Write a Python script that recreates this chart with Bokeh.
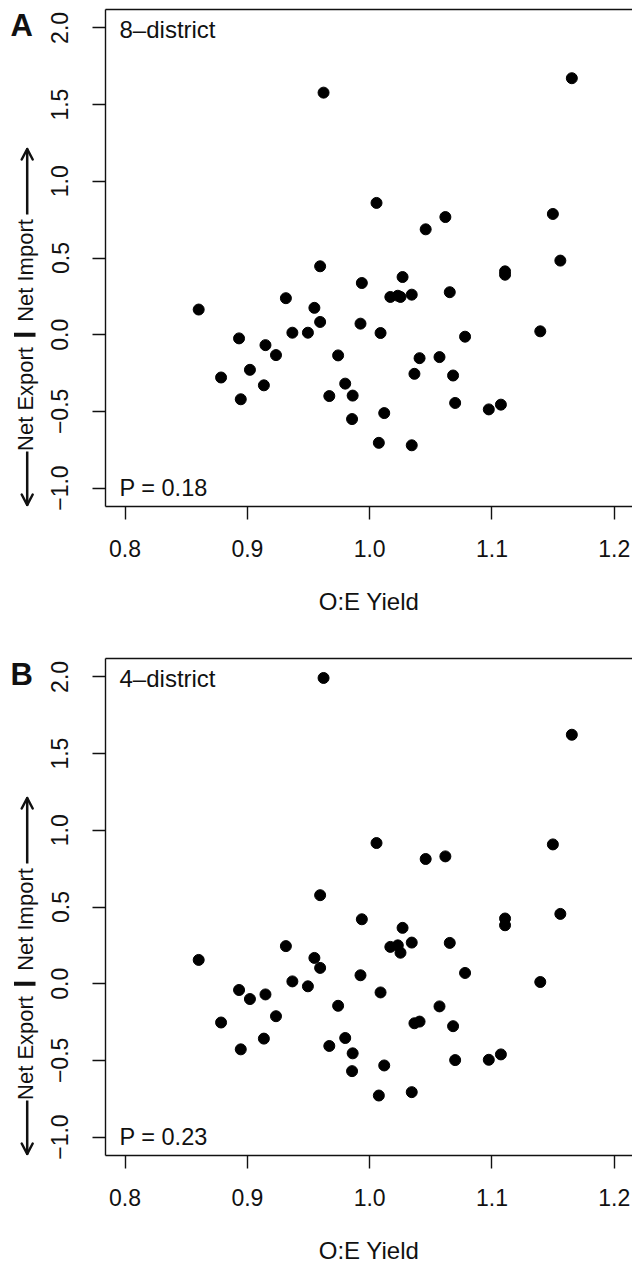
from math import pi
from bokeh.plotting import figure
from bokeh.models import Range1d, FixedTicker, LinearAxis, Label
from bokeh.core.properties import value
from bokeh.layouts import column, row
from bokeh.embed import file_html
from bokeh.resources import INLINE

# ---------------- data ----------------
oe_yield = [0.8602, 0.8785, 0.8932, 0.8946, 0.9021, 0.9135, 0.9148, 0.9234, 0.9315, 0.9368,
            0.9495, 0.9548, 0.9595, 0.9595, 0.9623, 0.9670, 0.9742, 0.9800, 0.9856, 0.9861,
            0.9925, 0.9936, 1.0056, 1.0075, 1.0089, 1.0119, 1.0169, 1.0230, 1.0252, 1.0269,
            1.0344, 1.0344, 1.0366, 1.0408, 1.0458, 1.0571, 1.0619, 1.0655, 1.0682, 1.0699,
            1.0780, 1.0974, 1.1073, 1.1107, 1.1107, 1.1395, 1.1498, 1.1559, 1.1653]

net_8district = [0.164, -0.279, -0.024, -0.421, -0.229, -0.330, -0.068, -0.133, 0.238, 0.013,
                 0.013, 0.175, 0.083, 0.446, 1.578, -0.400, -0.135, -0.319, -0.550, -0.397,
                 0.072, 0.337, 0.859, -0.705, 0.011, -0.511, 0.246, 0.254, 0.246, 0.376,
                 0.261, -0.721, -0.255, -0.153, 0.687, -0.146, 0.767, 0.277, -0.266, -0.445,
                 -0.013, -0.487, -0.456, 0.413, 0.391, 0.022, 0.787, 0.483, 1.672]

net_4district = [0.155, -0.253, -0.041, -0.428, -0.100, -0.358, -0.070, -0.212, 0.245, 0.015,
                 -0.017, 0.168, 0.103, 0.577, 1.993, -0.406, -0.144, -0.354, -0.570, -0.454,
                 0.055, 0.420, 0.917, -0.729, -0.057, -0.533, 0.240, 0.250, 0.202, 0.364,
                 0.268, -0.707, -0.258, -0.247, 0.813, -0.148, 0.830, 0.266, -0.277, -0.498,
                 0.070, -0.496, -0.461, 0.425, 0.381, 0.011, 0.908, 0.455, 1.623]

x_ticks = [0.8, 0.9, 1.0, 1.1, 1.2]
x_tick_labels = ["0.8", "0.9", "1.0", "1.1", "1.2"]
y_ticks = [-1.0, -0.5, 0.0, 0.5, 1.0, 1.5, 2.0]
y_tick_labels = ["\u22121.0", "\u22120.5", "0.0", "0.5", "1.0", "1.5", "2.0"]

panel_letters = ["A", "B"]
panel_tags = ["8\u2013district", "4\u2013district"]
panel_pvalues = ["P = 0.18", "P = 0.23"]
panel_series = [net_8district, net_4district]

x_title = "O:E Yield"
y_title_low = "Net Export"
y_title_high = "Net Import"

# ---------------- geometry ----------------
FONT = "Liberation Sans"
INK = "#111111"
X0, Y0, Y1 = 0.784, -1.12, 2.12
PX_X = 1223.0          # pixels per x unit
FRAME_H = 497
PX_Y = FRAME_H / (Y1 - Y0)
PAGE_W = 632
FRAME_LEFT = 105       # page x of the box's left side
FRAME_TOP = 9          # panel y of the box's top side
LEFT_W = 46            # strip holding the panel letter and the y title
X1 = X0 + (PAGE_W - FRAME_LEFT) / PX_X


def fix(size_px):
    # baseline correction for alphabetic text
    return 0.375 * size_px


def xd(px):
    return X0 + (px - FRAME_LEFT) / PX_X


def yd(py):
    return Y1 - (py - FRAME_TOP) / PX_Y


def make_left(idx, height):
    # frame of this strip is aligned with the panel's frame (same top/bottom)
    p = figure(width=LEFT_W, height=height,
               x_range=Range1d(0, LEFT_W), y_range=Range1d(Y0, Y1),
               output_backend="svg", toolbar_location=None,
               x_axis_location=None, y_axis_location=None,
               min_border=0, min_border_left=0, min_border_right=0,
               min_border_top=FRAME_TOP, min_border_bottom=height - FRAME_TOP - FRAME_H,
               outline_line_color=None,
               background_fill_color="white", border_fill_color="white")
    p.grid.visible = False
    p.text(x=[10], y=[yd(36.7 - fix(31))], text=[panel_letters[idx]],
           text_font=value(FONT), text_font_size=value("31px"), text_font_style="bold",
           text_color=INK, text_align="left", text_baseline="alphabetic")
    # rotated title pieces, centred on their own extents
    p.text(x=[25.0, 25.0], y=[yd(398.5), yd(270.0)], text=[y_title_low, y_title_high],
           angle=pi / 2, text_font=value(FONT), text_font_size=value("22px"),
           text_color=INK, text_align="center", text_baseline="middle")
    # thick separator bar at 0
    p.segment(x0=[13.5], y0=[0.0], x1=[35.0], y1=[0.0], line_width=4, line_color=INK)
    # arrow shafts and open heads
    ax = 26.7
    p.segment(x0=[ax, ax], y0=[yd(451), yd(214)], x1=[ax, ax], y1=[yd(504.5), yd(149)],
              line_width=2.5, line_color=INK)
    p.segment(x0=[ax - 5.5, ax + 5.5, ax - 5.5, ax + 5.5],
              y0=[yd(494), yd(494), yd(159), yd(159)],
              x1=[ax, ax, ax, ax],
              y1=[yd(504.5), yd(504.5), yd(148.5), yd(148.5)],
              line_width=2.5, line_color=INK, line_cap="round")
    return p


def make_panel(idx, height):
    bottom = height - FRAME_TOP - FRAME_H
    p = figure(width=PAGE_W - LEFT_W, height=height,
               x_range=Range1d(X0, X1), y_range=Range1d(Y0, Y1),
               output_backend="svg", toolbar_location=None,
               min_border_left=FRAME_LEFT - LEFT_W, min_border_right=0,
               min_border_top=FRAME_TOP, min_border_bottom=bottom,
               outline_line_color=None,
               background_fill_color="white", border_fill_color="white")
    p.grid.visible = False

    xa = p.xaxis[0]
    xa.ticker = FixedTicker(ticks=x_ticks)
    xa.major_label_overrides = {t: s for t, s in zip(x_ticks, x_tick_labels)}
    xa.major_tick_out = 13
    xa.major_tick_in = 0
    xa.minor_tick_out = 0
    xa.minor_tick_in = 0
    xa.major_label_standoff = 20
    xa.major_label_text_font = FONT
    xa.major_label_text_font_size = "23px"
    xa.major_label_text_color = INK
    xa.axis_line_color = INK
    xa.axis_line_width = 1.4
    xa.major_tick_line_color = INK
    xa.major_tick_line_width = 1.4
    xa.axis_label = x_title
    xa.axis_label_text_font = FONT
    xa.axis_label_text_font_size = "24px"
    xa.axis_label_text_font_style = "normal"
    xa.axis_label_text_color = INK
    xa.axis_label_standoff = 28

    ya = p.yaxis[0]
    ya.ticker = FixedTicker(ticks=y_ticks)
    ya.major_label_overrides = {t: s for t, s in zip(y_ticks, y_tick_labels)}
    ya.major_label_orientation = "vertical"
    ya.major_tick_out = 13
    ya.major_tick_in = 0
    ya.minor_tick_out = 0
    ya.minor_tick_in = 0
    ya.major_label_standoff = 24
    ya.major_label_text_font = FONT
    ya.major_label_text_font_size = "23px"
    ya.major_label_text_color = INK
    ya.axis_line_color = INK
    ya.axis_line_width = 1.4
    ya.major_tick_line_color = INK
    ya.major_tick_line_width = 1.4

    top = LinearAxis(ticker=FixedTicker(ticks=[]), major_tick_out=0, major_tick_in=0,
                     minor_tick_out=0, minor_tick_in=0, major_label_standoff=0,
                     major_label_text_font_size="0px",
                     axis_line_color=INK, axis_line_width=1.4)
    p.add_layout(top, "above")

    p.scatter(x=oe_yield, y=panel_series[idx], size=11, color="black")

    p.add_layout(Label(x=xd(119), y=yd(38.3 - fix(24)), text=panel_tags[idx],
                       text_align="left", text_baseline="alphabetic", text_font=FONT,
                       text_font_size="24px", text_color=INK))
    p.add_layout(Label(x=xd(119), y=yd(496.7 - fix(23.5)), text=panel_pvalues[idx],
                       text_align="left", text_baseline="alphabetic", text_font=FONT,
                       text_font_size="23.5px", text_color=INK))
    return p


hA, hB = 649, 620
layout = column(row(make_left(0, hA), make_panel(0, hA), spacing=0),
                row(make_left(1, hB), make_panel(1, hB), spacing=0),
                spacing=0)

open("out.html", "w").write(file_html(layout, INLINE))
